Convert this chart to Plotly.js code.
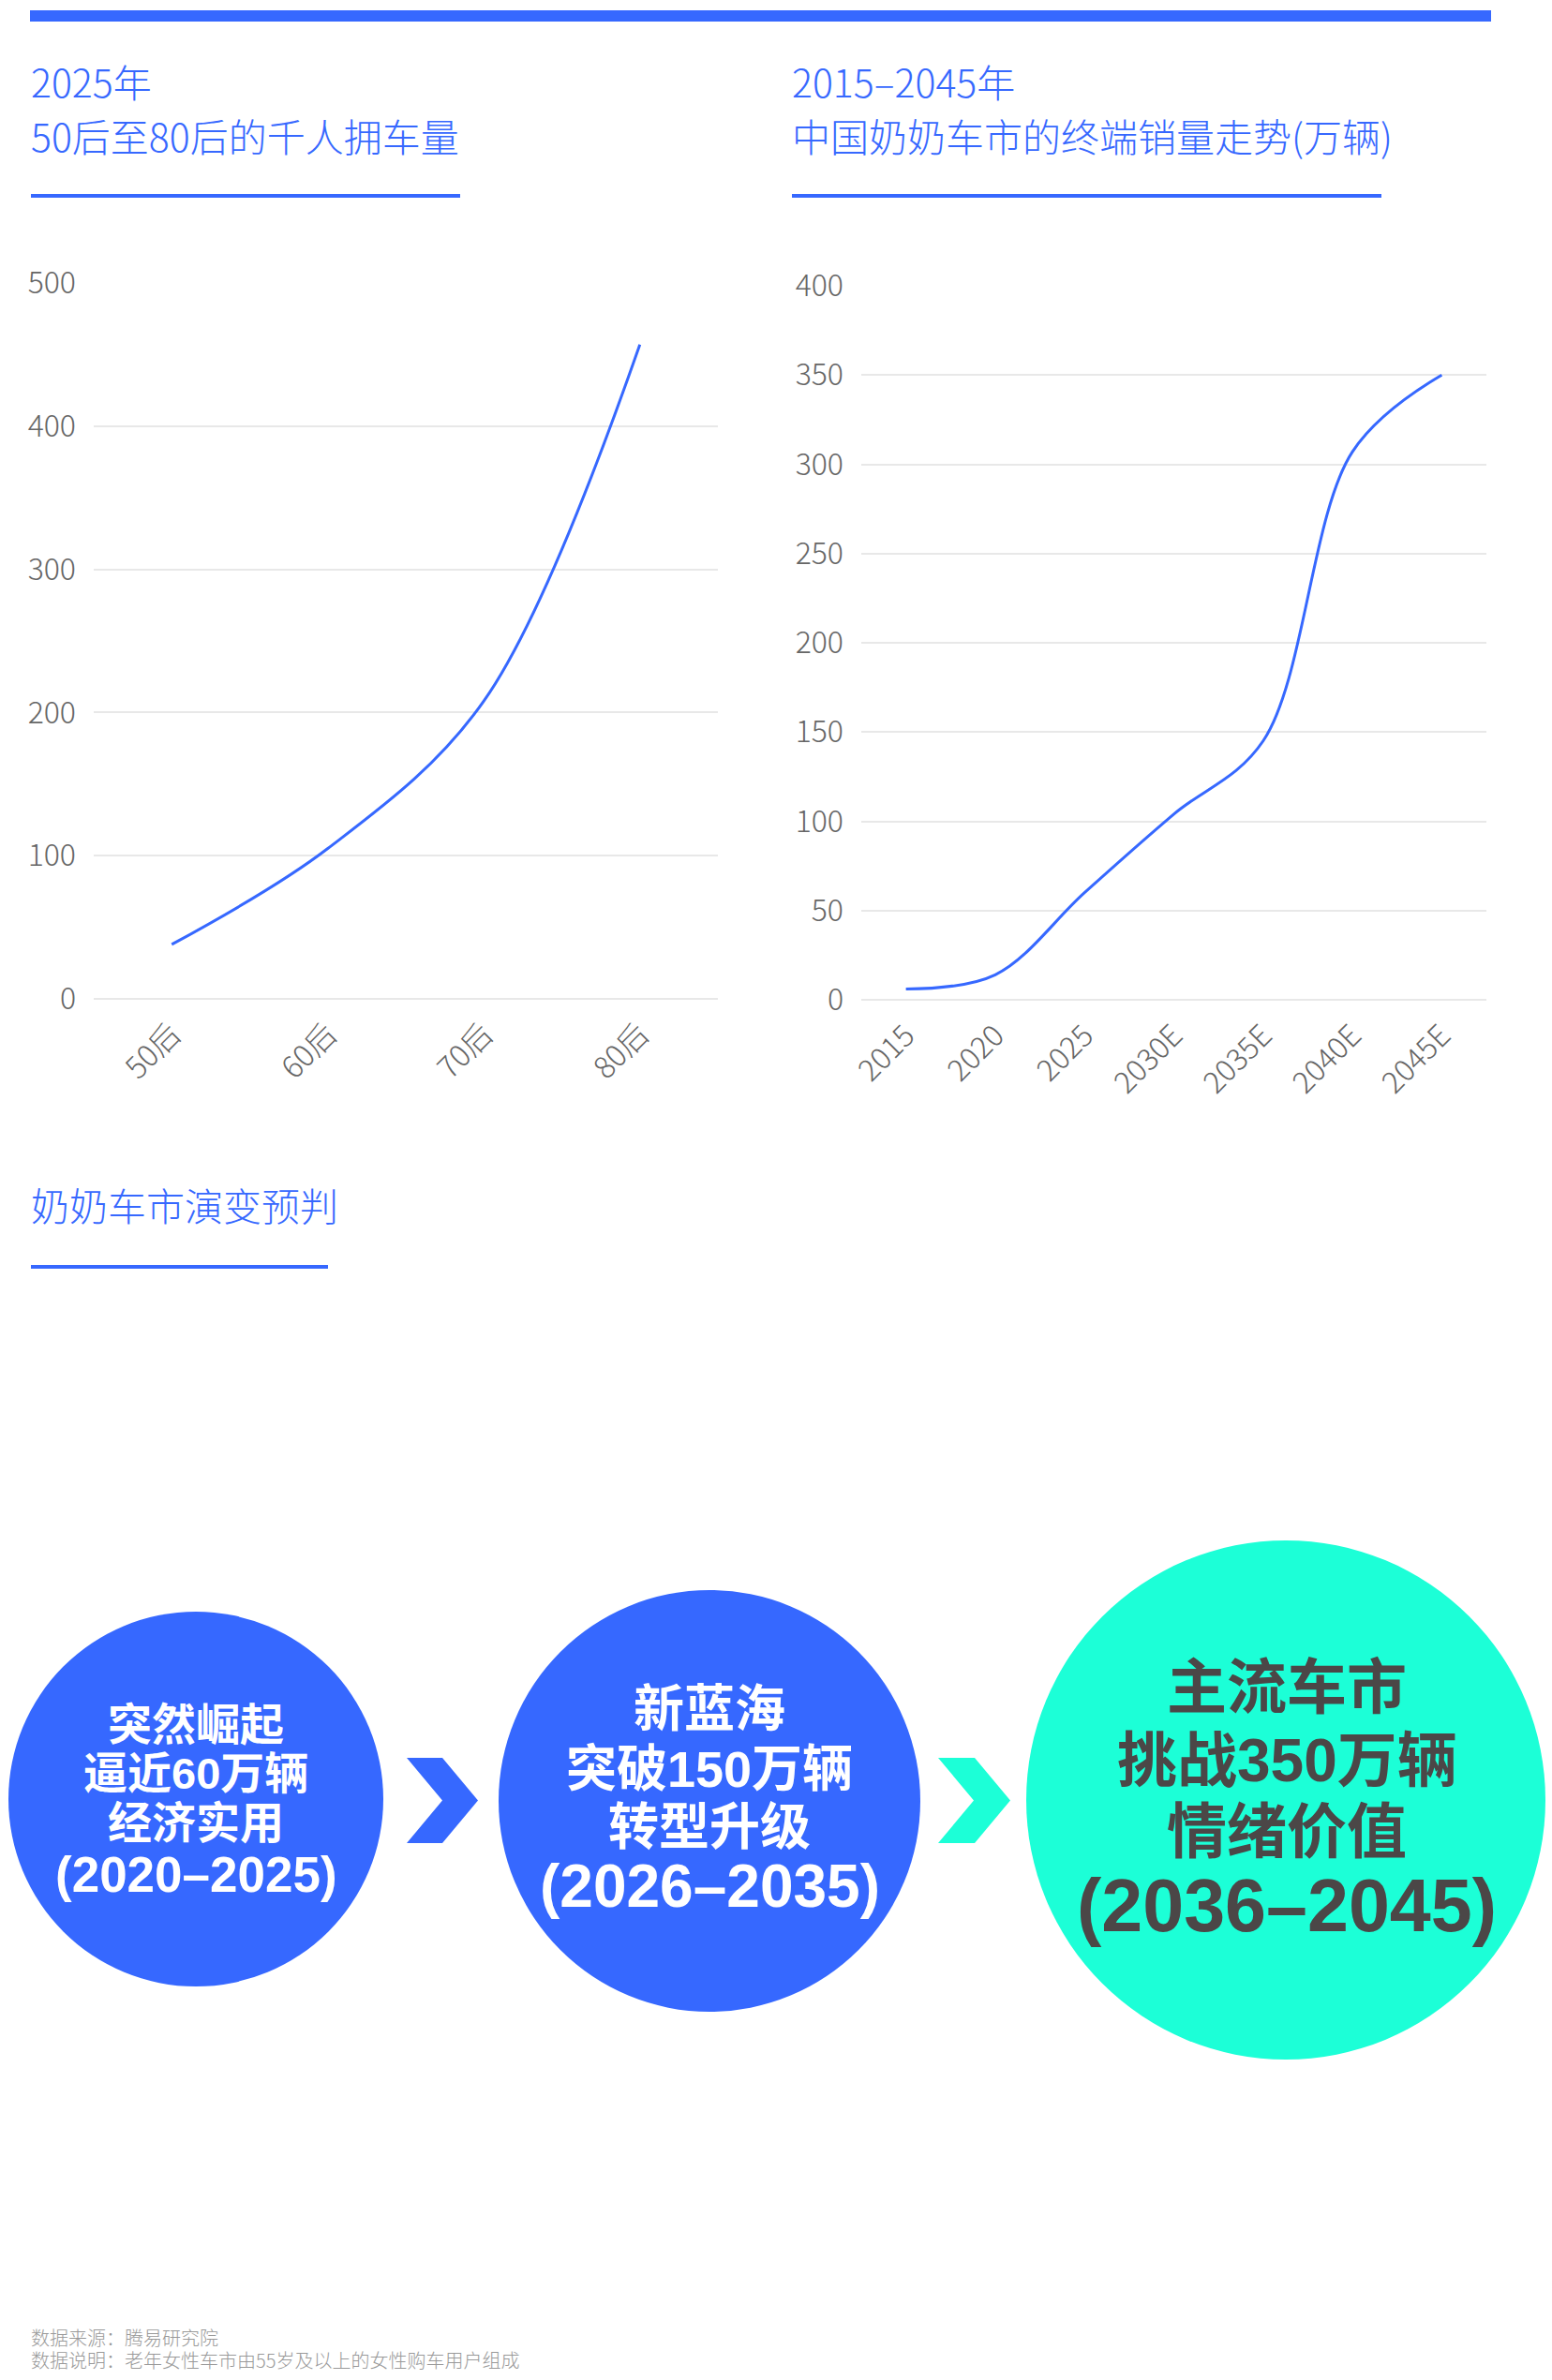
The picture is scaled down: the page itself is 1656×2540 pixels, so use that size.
<!DOCTYPE html>
<html>
<head>
<meta charset="utf-8">
<script src="https://cdn.plot.ly/plotly-3.0.1.min.js"></script>
<style>html,body{margin:0;padding:0;background:#fff}</style>
</head>
<body>
<div id="chart" style="width:1656px;height:2540px"></div>
<script>
'use strict';

// data
const generations = ['50后', '60后', '70后', '80后'];
const carsPerThousand = [38, 105, 208, 457];
const years = ['2015', '2020', '2025', '2030E', '2035E', '2040E', '2045E'];
const salesWan = [6, 14, 60, 104, 145, 307, 350];

const leftTitle = ['2025年', '50后至80后的千人拥车量'];
const rightTitle = ['2015–2045年', '中国奶奶车市的终端销量走势(万辆)'];
const stageTitle = '奶奶车市演变预判';
const stage1 = ['突然崛起', '逼近60万辆', '经济实用', '(2020–2025)'];
const stage2 = ['新蓝海', '突破150万辆', '转型升级', '(2026–2035)'];
const stage3 = ['主流车市', '挑战350万辆', '情绪价值', '(2036–2045)'];
const footnotes = ['数据来源：腾易研究院', '数据说明：老年女性车市由55岁及以上的女性购车用户组成'];

const W = 1656, H = 2540;
const BLUE = '#3668ff', CYAN = '#1cffd7', DARK = '#4b4747';
const CJK = '"Noto Sans CJK SC", "Noto Sans", sans-serif';
const BOLD = '"Liberation Sans", "Noto Sans CJK SC", sans-serif';

// pixel -> paper helpers
const px = x => x / W;
const py = y => 1 - y / H;

function rect(x0, y0, x1, y1, color) {
    return { type: 'rect', xref: 'paper', yref: 'paper', x0: px(x0), x1: px(x1), y0: py(y1), y1: py(y0),
        fillcolor: color, line: { width: 0 }, layer: 'below' };
}
function circle(cx, cy, r, color) {
    return { type: 'circle', xref: 'paper', yref: 'paper', x0: px(cx - r), x1: px(cx + r), y0: py(cy + r), y1: py(cy - r),
        fillcolor: color, line: { width: 0 }, layer: 'below' };
}
function chevron(x, y, w, h, tip, color) {
    // x,y top-left; w = stroke width; tip = horizontal depth of the point
    const pts = [[x, y], [x + w, y], [x + w + tip, y + h / 2], [x + w, y + h], [x, y + h], [x + tip, y + h / 2]];
    const d = pts.map((p, i) => (i ? 'L' : 'M') + px(p[0]) + ',' + py(p[1])).join(' ') + ' Z';
    return { type: 'path', xref: 'paper', yref: 'paper', path: d, fillcolor: color, line: { width: 0 } };
}
function label(text, x, y, size, color, opts = {}) {
    return Object.assign({ text, xref: 'paper', yref: 'paper', x: px(x), y: py(y), showarrow: false,
        xanchor: 'left', yanchor: 'middle',
        font: { family: CJK, size, color, weight: 300 } }, opts);
}
function stageText(lines, cx, ys, size, yearSize, color) {
    return lines.map((t, i) => {
        const isYear = i === lines.length - 1;
        return { text: t, xref: 'paper', yref: 'paper', x: px(cx), y: py(ys[i]), showarrow: false,
            xanchor: 'center', yanchor: 'middle',
            font: { family: BOLD, size: isYear ? yearSize : size, color, weight: 700 } };
    });
}

const tickFont = { family: CJK, size: 32, color: '#666', weight: 300 };
const axisX = (dom, n) => ({ domain: dom, type: 'category', range: [-0.5, n - 0.5], showgrid: false,
    zeroline: false, showline: false, ticks: '', tickangle: -45, ticklabelstandoff: 12,
    tickfont: tickFont, fixedrange: true });
const axisY = (dom, range, dtick) => ({ domain: dom, range, dtick, showgrid: true, gridcolor: '#e8e8e8', gridwidth: 2,
    zeroline: true, zerolinecolor: '#e8e8e8', zerolinewidth: 2, showline: false, ticks: '',
    ticklabelstandoff: 18, tickfont: tickFont, fixedrange: true });

const traces = [
    { x: generations, y: carsPerThousand, type: 'scatter', mode: 'lines', xaxis: 'x', yaxis: 'y',
      line: { color: BLUE, width: 3, shape: 'spline', smoothing: 1 }, hoverinfo: 'x+y' },
    { x: years, y: salesWan, type: 'scatter', mode: 'lines', xaxis: 'x2', yaxis: 'y2',
      line: { color: BLUE, width: 3, shape: 'spline', smoothing: 1 }, hoverinfo: 'x+y' },
];

const shapes = [
    rect(32, 11, 1591, 23, BLUE),
    rect(33, 207, 491, 211, BLUE),
    rect(845, 207, 1474, 211, BLUE),
    rect(33, 1350, 350, 1354, BLUE),
    circle(209, 1920, 200, BLUE),
    circle(757, 1922, 225, BLUE),
    circle(1372, 1921, 277, CYAN),
    chevron(434, 1876, 38, 91, 38, BLUE),
    chevron(1001, 1876, 39, 91, 38, CYAN),
];

const annotations = [
    label(leftTitle[0], 31, 86, 41, BLUE),
    label(leftTitle[1], 31, 144, 41, BLUE),
    label(rightTitle[0], 843, 86, 41, BLUE),
    label(rightTitle[1], 843, 144, 41, BLUE),
    label(stageTitle, 31, 1285, 41, BLUE),
    label(footnotes[0], 31, 2494, 20, '#999'),
    label(footnotes[1], 31, 2518, 20, '#999'),
    ...stageText(stage1, 209, [1840, 1892, 1945, 2000], 47, 53, '#fff'),
    ...stageText(stage2, 757, [1824, 1888, 1950, 2013], 54, 64, '#fff'),
    ...stageText(stage3, 1373, [1801, 1879, 1955, 2034], 64, 79, DARK),
];

const layout = {
    width: W, height: H, margin: { l: 0, r: 0, t: 0, b: 0 },
    paper_bgcolor: '#fff', plot_bgcolor: 'rgba(0,0,0,0)', showlegend: false,
    xaxis: axisX([px(100), px(766)], generations.length),
    yaxis: axisY([py(1066), py(302)], [0, 500], 100),
    xaxis2: Object.assign(axisX([px(919), px(1586)], years.length), { anchor: 'y2' }),
    yaxis2: Object.assign(axisY([py(1067), py(305)], [0, 400], 50), { anchor: 'x2' }),
    shapes, annotations,
};

Plotly.newPlot('chart', traces, layout, { displayModeBar: false, staticPlot: true });
</script>
</body>
</html>
